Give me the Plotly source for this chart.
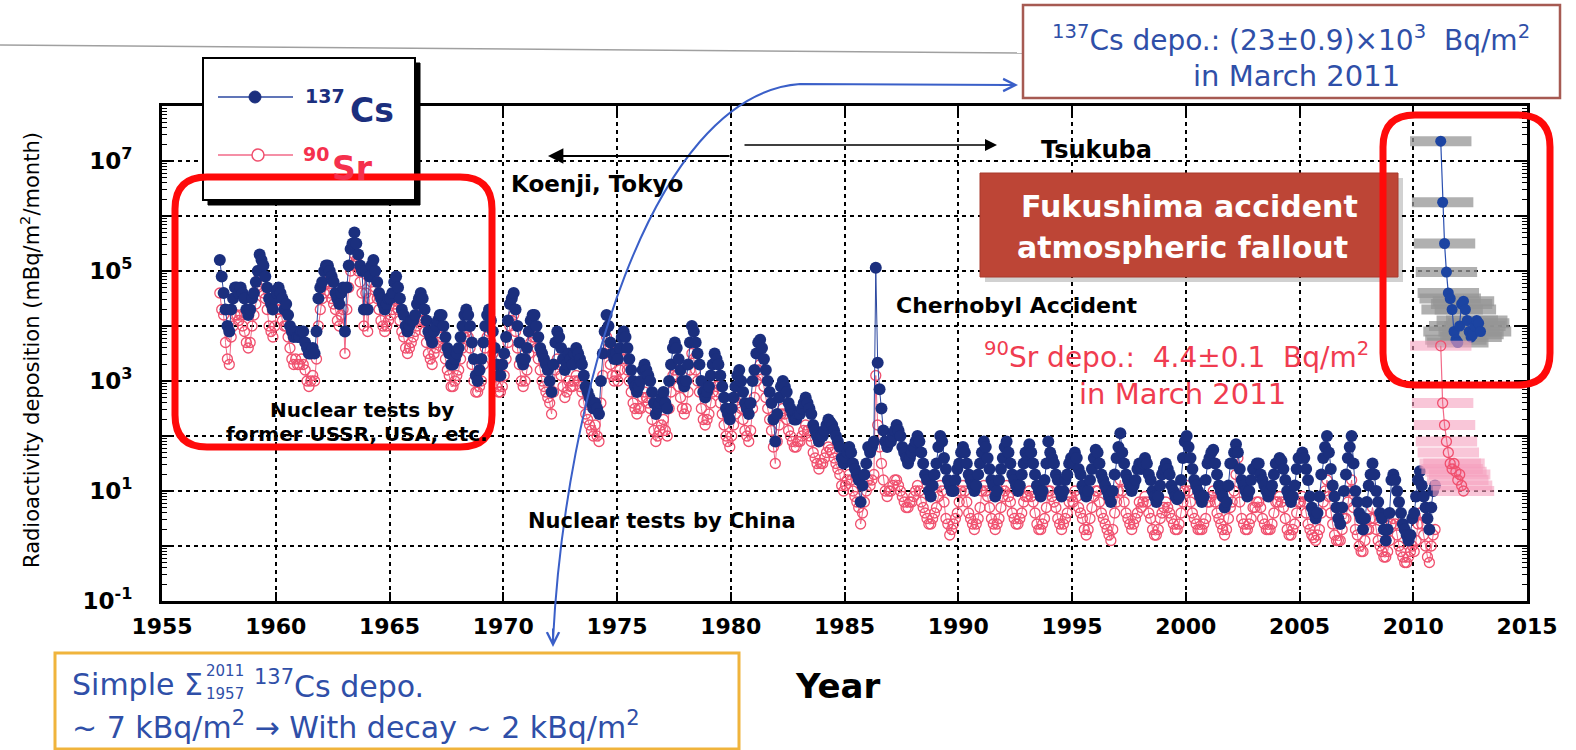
import plotly.graph_objects as go

# ---------------- data: log10 of monthly deposition (mBq/m2/month) ----------------
# Koenji / Tsukuba monthly series, first month = July 1957
series_start = (1957, 7)

cs_log_1957_1969 = [
    5.2, 4.9, 4.6, 4.3, 4.0, 3.9,                                  # 1957 Jul-Dec
    4.3, 4.5, 4.7, 4.7, 4.6, 4.7, 4.6, 4.5, 4.3, 4.2, 4.3, 4.5,    # 1958
    4.6, 4.8, 5.0, 5.3, 5.2, 5.1, 4.9, 4.7, 4.5, 4.4, 4.3, 4.5,    # 1959
    4.6, 4.7, 4.6, 4.5, 4.3, 4.4, 4.2, 4.0, 3.9, 3.8, 3.9, 3.8,    # 1960
    3.8, 3.9, 3.9, 3.7, 3.6, 3.5, 3.5, 3.6, 3.5, 3.9, 4.5, 4.7,    # 1961
    4.8, 5.0, 5.1, 5.1, 5.0, 4.9, 4.8, 4.6, 4.5, 4.4, 4.6, 4.7,    # 1962
    3.9, 4.7, 5.1, 5.4, 5.5, 5.7, 5.5, 5.3, 5.1, 5.0, 4.3, 5.0,    # 1963
    4.3, 4.9, 5.1, 5.2, 5.0, 4.8, 4.6, 4.5, 4.4, 4.3, 4.4, 4.5,    # 1964
    4.5, 4.6, 4.8, 4.9, 4.7, 4.5, 4.3, 4.2, 4.0, 3.9, 4.0, 4.1,    # 1965
    4.1, 4.2, 4.4, 4.5, 4.6, 4.5, 4.3, 4.1, 3.9, 3.8, 3.7, 3.9,    # 1966
    4.0, 4.1, 4.2, 4.2, 4.0, 3.8, 3.6, 3.5, 3.3, 3.3, 3.4, 3.5,    # 1967
    3.6, 3.8, 4.0, 4.2, 4.3, 4.2, 4.0, 3.7, 3.4, 3.1, 3.0, 3.2,    # 1968
    3.4, 3.7, 4.0, 4.2, 4.3, 4.1, 3.9, 3.6, 3.3, 3.1, 3.1, 3.3,    # 1969
]
sr_log_1957_1969 = [
    4.6, 4.3, 4.2, 3.7, 3.4, 3.3,                                  # 1957 Jul-Dec
    3.8, 4.0, 4.2, 4.2, 4.1, 4.2, 4.0, 3.9, 3.7, 3.6, 3.7, 4.0,    # 1958
    4.2, 4.4, 4.7, 4.9, 4.8, 4.6, 4.5, 4.3, 4.0, 3.9, 3.8, 4.0,    # 1959
    4.3, 4.4, 4.3, 4.1, 4.0, 4.0, 3.8, 3.6, 3.4, 3.3, 3.4, 3.3,    # 1960
    3.3, 3.4, 3.3, 3.2, 3.0, 2.9, 3.0, 3.1, 3.0, 3.4, 4.0, 4.3,    # 1961
    4.5, 4.6, 4.8, 4.8, 4.6, 4.5, 4.4, 4.3, 4.1, 4.0, 4.2, 4.3,    # 1962
    3.5, 4.3, 4.7, 5.0, 5.1, 5.3, 5.2, 5.0, 4.8, 4.6, 4.0, 4.6,    # 1963
    3.9, 4.5, 4.8, 4.9, 4.7, 4.5, 4.3, 4.1, 4.0, 3.9, 4.0, 4.1,    # 1964
    4.2, 4.3, 4.4, 4.5, 4.3, 4.1, 3.9, 3.8, 3.6, 3.5, 3.6, 3.7,    # 1965
    3.8, 3.9, 4.0, 4.1, 4.2, 4.1, 3.9, 3.7, 3.5, 3.4, 3.3, 3.5,    # 1966
    3.6, 3.7, 3.8, 3.8, 3.6, 3.4, 3.2, 3.1, 2.9, 2.9, 3.0, 3.1,    # 1967
    3.2, 3.4, 3.6, 3.8, 3.9, 3.8, 3.6, 3.3, 3.0, 2.8, 2.8, 2.9,    # 1968
    3.0, 3.3, 3.6, 3.8, 3.9, 3.7, 3.5, 3.2, 2.9, 2.8, 2.8, 2.9,    # 1969
]

cs_log_1970_1985 = [
    3.5, 3.8, 4.1, 4.4, 4.5, 4.6, 4.3, 4.0, 3.7, 3.4, 3.3, 3.4,    # 1970
    3.6, 3.9, 4.1, 4.2, 4.2, 4.0, 3.8, 3.6, 3.5, 3.4, 3.3, 3.2,    # 1971
    3.0, 2.8, 3.3, 3.7, 3.9, 3.8, 3.6, 3.4, 3.2, 3.3, 3.5, 3.4,    # 1972
    3.3, 3.5, 3.6, 3.5, 3.4, 3.3, 3.1, 2.9, 2.8, 2.7, 2.6, 2.5,    # 1973
    2.6, 2.5, 2.4, 3.0, 3.5, 3.9, 4.2, 4.0, 3.7, 3.5, 3.4, 3.5,    # 1974
    3.4, 3.6, 3.8, 3.9, 3.8, 3.6, 3.4, 3.2, 3.0, 2.9, 2.8, 2.9,    # 1975
    3.0, 3.2, 3.3, 3.2, 3.1, 3.0, 2.8, 2.6, 2.4, 2.5, 2.6, 2.7,    # 1976
    2.8, 2.6, 2.5, 3.0, 3.3, 3.6, 3.7, 3.6, 3.4, 3.2, 3.0, 2.9,    # 1977
    3.0, 3.3, 3.7, 4.0, 3.9, 3.7, 3.5, 3.3, 3.0, 2.8, 2.7, 2.8,    # 1978
    2.9, 3.1, 3.3, 3.5, 3.4, 3.3, 3.1, 2.9, 2.7, 2.5, 2.4, 2.3,    # 1979
    2.5, 2.7, 2.9, 3.1, 3.2, 3.0, 2.8, 2.6, 2.5, 2.4, 2.6, 3.0,    # 1980
    3.2, 3.5, 3.7, 3.75, 3.6, 3.4, 3.2, 3.0, 2.8, 2.6, 2.3, 1.9,   # 1981
    2.4, 2.7, 2.9, 3.0, 2.9, 2.8, 2.6, 2.5, 2.4, 2.3, 2.3, 2.4,    # 1982
    2.4, 2.5, 2.6, 2.7, 2.6, 2.5, 2.4, 2.2, 2.1, 2.0, 1.9, 2.0,    # 1983
    2.0, 2.1, 2.2, 2.3, 2.25, 2.2, 2.1, 2.0, 1.9, 1.8, 1.6, 1.5,   # 1984
    1.6, 1.7, 1.8, 1.7, 1.5, 1.4, 1.3, 1.2, 0.8, 1.1, 1.3, 1.5,    # 1985
]
sr_log_1970_1985 = [
    3.1, 3.4, 3.7, 4.0, 4.1, 4.2, 3.9, 3.6, 3.3, 3.0, 2.9, 3.0,    # 1970
    3.2, 3.5, 3.7, 3.8, 3.8, 3.6, 3.4, 3.2, 3.0, 2.9, 2.8, 2.7,    # 1971
    2.6, 2.4, 2.8, 3.2, 3.4, 3.3, 3.1, 2.9, 2.7, 2.8, 3.0, 2.9,    # 1972
    2.9, 3.0, 3.1, 3.0, 2.9, 2.8, 2.6, 2.4, 2.3, 2.2, 2.1, 2.0,    # 1973
    2.2, 2.0, 1.9, 2.6, 3.1, 3.5, 3.8, 3.6, 3.3, 3.1, 3.0, 3.1,    # 1974
    3.0, 3.2, 3.4, 3.5, 3.4, 3.2, 3.0, 2.8, 2.6, 2.5, 2.4, 2.5,    # 1975
    2.5, 2.7, 2.8, 2.7, 2.6, 2.5, 2.3, 2.1, 1.9, 2.0, 2.1, 2.2,    # 1976
    2.3, 2.1, 2.0, 2.5, 2.8, 3.1, 3.2, 3.1, 2.9, 2.7, 2.5, 2.4,    # 1977
    2.5, 2.8, 3.2, 3.5, 3.4, 3.2, 3.0, 2.8, 2.5, 2.3, 2.2, 2.3,    # 1978
    2.4, 2.6, 2.8, 3.0, 2.9, 2.8, 2.6, 2.4, 2.2, 2.0, 1.9, 1.8,    # 1979
    2.0, 2.2, 2.4, 2.6, 2.7, 2.5, 2.3, 2.1, 2.0, 1.9, 2.1, 2.5,    # 1980
    2.7, 3.0, 3.2, 3.3, 3.1, 2.9, 2.7, 2.5, 2.3, 2.1, 1.8, 1.5,    # 1981
    1.9, 2.2, 2.4, 2.5, 2.4, 2.3, 2.1, 2.0, 1.9, 1.8, 1.8, 1.9,    # 1982
    1.9, 2.0, 2.1, 2.2, 2.1, 2.0, 1.9, 1.7, 1.6, 1.5, 1.4, 1.5,    # 1983
    1.5, 1.6, 1.7, 1.8, 1.75, 1.7, 1.6, 1.5, 1.4, 1.3, 1.1, 1.0,   # 1984
    1.1, 1.2, 1.3, 1.2, 1.0, 0.9, 0.8, 0.7, 0.4, 0.6, 0.8, 1.0,    # 1985
]

cs_log_1986_1999 = [
    1.8, 1.7, 1.8, 1.9, 5.06, 3.33, 2.85, 2.5, 2.1, 1.9, 1.8, 1.9, # 1986 (Chernobyl)
    1.9, 2.0, 2.1, 2.2, 2.1, 2.0, 1.8, 1.7, 1.6, 1.5, 1.6, 1.7,    # 1987
    1.8, 1.9, 2.0, 1.9, 1.7, 1.5, 1.3, 1.2, 1.0, 0.9, 1.1, 1.3,    # 1988
    1.5, 1.8, 2.0, 1.9, 1.6, 1.4, 1.2, 1.1, 1.0, 1.0, 1.2, 1.4,    # 1989
    1.5, 1.7, 1.8, 1.7, 1.5, 1.3, 1.2, 1.1, 1.0, 1.1, 1.3, 1.5,    # 1990
    1.7, 1.9, 1.8, 1.6, 1.4, 1.2, 1.1, 0.9, 1.0, 1.2, 1.4, 1.6,    # 1991
    1.8, 1.9, 1.7, 1.5, 1.3, 1.2, 1.1, 1.0, 1.1, 1.3, 1.5, 1.7,    # 1992
    1.6, 1.85, 1.7, 1.5, 1.3, 1.1, 1.0, 0.9, 1.0, 1.2, 1.5, 1.9,   # 1993
    1.7, 1.6, 1.5, 1.3, 1.2, 1.0, 0.9, 1.0, 1.2, 1.3, 1.5, 1.6,    # 1994
    1.5, 1.7, 1.6, 1.4, 1.3, 1.1, 1.0, 0.9, 1.0, 1.2, 1.4, 1.6,    # 1995
    1.75, 1.7, 1.5, 1.3, 1.2, 1.1, 1.0, 0.9, 0.8, 1.0, 1.3, 1.6,   # 1996
    1.8, 2.05, 1.7, 1.5, 1.3, 1.2, 1.1, 1.0, 1.1, 1.2, 1.4, 1.5,   # 1997
    1.4, 1.5, 1.6, 1.5, 1.3, 1.2, 1.0, 0.9, 0.8, 0.9, 1.1, 1.3,    # 1998
    1.4, 1.5, 1.4, 1.3, 1.1, 1.0, 0.9, 0.85, 0.9, 1.2, 1.6, 1.9,   # 1999
]
sr_log_1986_1999 = [
    1.2, 1.1, 1.2, 1.3, 3.1, 2.2, 1.8, 1.5, 1.2, 1.0, 0.9, 1.0,    # 1986
    1.0, 1.1, 1.2, 1.2, 1.1, 1.0, 0.9, 0.8, 0.7, 0.7, 0.8, 0.8,    # 1987
    0.9, 1.0, 1.1, 1.0, 0.8, 0.7, 0.6, 0.5, 0.4, 0.4, 0.5, 0.6,    # 1988
    0.7, 0.9, 1.1, 1.0, 0.8, 0.5, 0.4, 0.2, 0.3, 0.4, 0.5, 0.6,    # 1989
    0.8, 1.0, 1.1, 1.0, 0.8, 0.6, 0.5, 0.4, 0.3, 0.4, 0.5, 0.7,    # 1990
    1.0, 1.1, 1.0, 0.9, 0.7, 0.5, 0.4, 0.3, 0.4, 0.5, 0.7, 0.9,    # 1991
    1.0, 1.1, 0.9, 0.8, 0.6, 0.5, 0.4, 0.4, 0.5, 0.6, 0.8, 0.9,    # 1992
    0.9, 1.0, 0.9, 0.8, 0.6, 0.4, 0.3, 0.3, 0.4, 0.5, 0.7, 1.0,    # 1993
    1.0, 0.9, 0.8, 0.7, 0.5, 0.4, 0.3, 0.4, 0.5, 0.6, 0.8, 0.9,    # 1994
    0.8, 1.0, 0.9, 0.7, 0.6, 0.5, 0.3, 0.2, 0.3, 0.5, 0.7, 0.9,    # 1995
    1.0, 1.0, 0.8, 0.6, 0.5, 0.4, 0.3, 0.2, 0.1, 0.3, 0.6, 0.8,    # 1996
    1.0, 1.2, 1.0, 0.8, 0.6, 0.5, 0.4, 0.3, 0.4, 0.5, 0.6, 0.8,    # 1997
    0.7, 0.8, 0.9, 0.8, 0.6, 0.5, 0.3, 0.2, 0.2, 0.3, 0.5, 0.6,    # 1998
    0.7, 0.8, 0.7, 0.6, 0.5, 0.4, 0.3, 0.3, 0.4, 0.6, 0.8, 1.0,    # 1999
]

cs_log_2000_2010 = [
    2.0, 1.8, 1.6, 1.4, 1.2, 1.1, 1.0, 0.9, 0.8, 0.9, 1.2, 1.5,    # 2000
    1.6, 1.7, 1.75, 1.5, 1.3, 1.1, 1.0, 0.9, 0.7, 0.8, 1.1, 1.5,   # 2001
    1.5, 1.7, 1.85, 1.7, 1.4, 1.2, 1.1, 1.0, 0.9, 1.0, 1.2, 1.4,   # 2002
    1.4, 1.5, 1.5, 1.3, 1.2, 1.1, 1.0, 0.9, 1.0, 1.1, 1.3, 1.5,    # 2003
    1.5, 1.6, 1.55, 1.4, 1.2, 1.0, 0.9, 0.8, 0.9, 1.1, 1.4, 1.6,   # 2004
    1.6, 1.7, 1.6, 1.4, 1.2, 0.9, 0.7, 0.6, 0.5, 0.6, 0.9, 1.3,    # 2005
    1.6, 1.8, 2.0, 1.7, 1.4, 1.1, 0.9, 0.7, 0.5, 0.4, 0.7, 1.0,    # 2006
    1.3, 1.6, 1.8, 2.0, 1.5, 1.0, 0.8, 0.6, 0.5, 0.3, 0.5, 0.8,    # 2007
    1.1, 1.3, 1.5, 1.3, 1.0, 0.8, 0.6, 0.5, 0.3, 0.1, 0.3, 0.6,    # 2008
    1.2, 1.3, 1.2, 1.0, 0.8, 0.6, 0.4, 0.3, 0.2, 0.1, 0.2, 0.5,    # 2009
    0.6, 0.9, 1.2, 1.36, 1.1, 0.9, 0.7, 0.5, 0.3, 0.7, 1.0, 1.1,   # 2010
]
sr_log_2000_2010 = [
    1.1, 1.0, 0.8, 0.6, 0.5, 0.4, 0.3, 0.3, 0.3, 0.4, 0.5, 0.8,    # 2000
    0.8, 0.9, 1.0, 0.8, 0.6, 0.5, 0.4, 0.3, 0.2, 0.3, 0.5, 0.7,    # 2001
    0.8, 1.0, 1.3, 1.6, 0.8, 0.5, 0.4, 0.3, 0.3, 0.4, 0.5, 0.7,    # 2002
    0.7, 0.8, 0.8, 0.7, 0.5, 0.4, 0.3, 0.3, 0.3, 0.4, 0.6, 0.8,    # 2003
    0.8, 0.9, 0.8, 0.7, 0.5, 0.3, 0.2, 0.2, 0.3, 0.4, 0.6, 0.8,    # 2004
    0.8, 0.9, 0.8, 0.6, 0.4, 0.3, 0.2, 0.15, 0.1, 0.2, 0.3, 0.6,   # 2005
    0.8, 1.0, 1.2, 0.9, 0.6, 0.4, 0.2, 0.1, 0.1, 0.1, 0.3, 0.5,    # 2006
    0.5, 0.8, 1.0, 1.2, 0.7, 0.3, 0.2, 0.0, -0.1, -0.1, 0.1, 0.3,  # 2007
    0.3, 0.5, 0.7, 0.5, 0.3, 0.1, 0.0, -0.1, -0.2, -0.2, -0.1, 0.1, # 2008
    0.4, 0.5, 0.4, 0.2, 0.0, -0.1, -0.2, -0.3, -0.3, -0.2, -0.1, 0.0, # 2009
    -0.1, 0.1, 0.4, 0.6, 0.4, 0.2, 0.0, -0.2, -0.3, 0.0, 0.2, 0.3, # 2010
]

# Fukushima period (Tsukuba), first month = March 2011
fk_start = (2011, 3)
fk_cs_log = [7.36, 6.25, 5.5, 4.98, 4.6, 4.5, 4.3, 3.9, 3.75, 3.7, 4.0, 4.4,
             4.45, 4.3, 4.1, 3.9, 3.8, 3.85, 4.0, 4.1, 4.05, 3.9]
fk_sr_log = [3.64, 2.6, 2.2, 1.9, 1.7, 1.5, 1.4, 1.5, 1.35, 1.2, 1.3, 1.1, 1.0]
fk_xerr_years = 1.35

year_ticks = list(range(1955, 2016, 5))
decade_exps = list(range(-1, 9))
labelled_exps = [-1, 1, 3, 5, 7]

# ---------------- helpers ----------------
W, H = 1576, 750
L, R, T, B = 162, 1527, 106, 601  # plot area in pixels


def px(X):
    return (X - L) / (R - L)


def py(Y):
    return (B - Y) / (B - T)


def month_times(start, n):
    y0, m0 = start
    return [y0 + (m0 - 1 + i + 0.5) / 12.0 for i in range(n)]


cs_log = cs_log_1957_1969 + cs_log_1970_1985 + cs_log_1986_1999 + cs_log_2000_2010
sr_log = sr_log_1957_1969 + sr_log_1970_1985 + sr_log_1986_1999 + sr_log_2000_2010
t_main = month_times(series_start, len(cs_log))
t_sr = month_times(series_start, len(sr_log))
t_fk_cs = month_times(fk_start, len(fk_cs_log))
t_fk_sr = month_times(fk_start, len(fk_sr_log))

CS_MARK = '#1b2f7e'
CS_LINE = '#2b47a0'
SR_COL = '#f0506e'
SR_LINE = '#f26a88'

fig = go.Figure()
fig.add_trace(go.Scatter(
    x=t_sr, y=[10 ** v for v in sr_log], mode='lines+markers',
    line=dict(color=SR_LINE, width=1),
    marker=dict(symbol='circle-open', size=10, color=SR_COL, line=dict(width=1.3)),
    showlegend=False, name='90Sr'))
fig.add_trace(go.Scatter(
    x=t_main, y=[10 ** v for v in cs_log], mode='lines+markers',
    line=dict(color=CS_LINE, width=1),
    marker=dict(symbol='circle', size=12, color=CS_MARK),
    showlegend=False, name='137Cs'))
fig.add_trace(go.Scatter(
    x=t_fk_cs, y=[10 ** v for v in fk_cs_log], mode='lines+markers',
    line=dict(color='#2a4fb0', width=1.2),
    marker=dict(symbol='circle', size=11, color='#1c44a2'),
    error_x=dict(type='constant', value=fk_xerr_years, thickness=10, width=0,
                 color='rgba(150,150,150,0.75)'),
    showlegend=False))
fig.add_trace(go.Scatter(
    x=t_fk_sr, y=[10 ** v for v in fk_sr_log], mode='lines+markers',
    line=dict(color=SR_LINE, width=1.2),
    marker=dict(symbol='circle-open', size=10, color=SR_COL, line=dict(width=1.3)),
    error_x=dict(type='constant', value=fk_xerr_years, thickness=10, width=0,
                 color='rgba(245,160,190,0.6)'),
    showlegend=False))

fig.update_xaxes(
    range=[1955, 2015], tickmode='array', tickvals=year_ticks,
    ticktext=['<b>%d</b>' % y for y in year_ticks],
    tickfont=dict(family='DejaVu Sans', size=22, color='black'),
    showline=True, linewidth=3, linecolor='black', mirror='ticks',
    ticks='inside', ticklen=9, tickwidth=2, tickcolor='black',
    showgrid=True, gridcolor='black', gridwidth=1.5, griddash='4px,4px',
    zeroline=False, ticklabelstandoff=4)
fig.update_yaxes(
    type='log', range=[-1, 8], tickmode='array',
    tickvals=[10 ** k for k in decade_exps],
    ticktext=['<b>10<sup>%d</sup></b>' % k if k in labelled_exps else ' ' for k in decade_exps],
    tickfont=dict(family='DejaVu Sans', size=23, color='black'),
    showline=True, linewidth=3, linecolor='black', mirror='ticks',
    ticks='inside', ticklen=9, tickwidth=2, tickcolor='black',
    minor=dict(ticks='inside', ticklen=5, tickwidth=1, tickcolor='black', dtick='D1', showgrid=False),
    showgrid=True, gridcolor='black', gridwidth=1.5, griddash='4px,4px',
    zeroline=False, ticklabelstandoff=22)

fig.update_layout(
    width=W, height=H, margin=dict(l=L, r=W - R, t=T, b=H - B),
    paper_bgcolor='white', plot_bgcolor='white', showlegend=False)

shapes = []


def rect(x0, y0, x1, y1, fill='white', line='black', lw=2):
    shapes.append(dict(type='rect', xref='paper', yref='paper',
                       x0=px(x0), x1=px(x1), y0=py(y1), y1=py(y0),
                       fillcolor=fill, line=dict(color=line, width=lw), layer='above'))


def seg(x0, y0, x1, y1, color, lw):
    shapes.append(dict(type='line', xref='paper', yref='paper',
                       x0=px(x0), x1=px(x1), y0=py(y0), y1=py(y1),
                       line=dict(color=color, width=lw), layer='above'))


def circ(cx, cy, r, fill, line, lw):
    shapes.append(dict(type='circle', xref='paper', yref='paper',
                       x0=px(cx - r), x1=px(cx + r), y0=py(cy + r), y1=py(cy - r),
                       fillcolor=fill, line=dict(color=line, width=lw), layer='above'))


def P(X, Y):
    return '%.5f,%.5f' % (px(X), py(Y))


def rounded(x0, y0, x1, y1, r, color, lw):
    path = ('M %s L %s Q %s %s L %s Q %s %s L %s Q %s %s L %s Q %s %s Z' % (
        P(x0 + r, y0), P(x1 - r, y0), P(x1, y0), P(x1, y0 + r),
        P(x1, y1 - r), P(x1, y1), P(x1 - r, y1), P(x0 + r, y1),
        P(x0, y1), P(x0, y1 - r), P(x0, y0 + r), P(x0, y0), P(x0 + r, y0)))
    shapes.append(dict(type='path', xref='paper', yref='paper', path=path,
                       line=dict(color=color, width=lw), layer='above'))


# slide separator line
seg(0, 45, 1023, 53, '#a0a0a0', 1.5)

# legend box with shadow
rect(208, 63, 420, 205, fill='black', line='black', lw=1)
rect(203, 58, 415, 200, fill='white', line='black', lw=2)
seg(218, 97, 293, 97, CS_LINE, 1.5)
circ(255, 97, 6, CS_MARK, CS_MARK, 1)
seg(218, 155, 293, 155, SR_LINE, 1.5)
circ(258, 155, 6, 'white', SR_COL, 1.5)

# Fukushima label box
rect(985, 178, 1403, 282, fill='rgba(0,0,0,0.18)', line='rgba(0,0,0,0)', lw=0)
rect(980, 173, 1398, 277, fill='#bd4536', line='#a83a2c', lw=1)

# top-right text box
rect(1023, 5, 1560, 98, fill='white', line='#a65a52', lw=2.5)
# bottom-left text box
rect(55, 653, 739, 749, fill='white', line='#f0b43c', lw=3)

# red highlight boxes
rounded(175, 177, 492, 447, 32, '#ff0a0a', 7)
rounded(1383, 115, 1550, 385, 32, '#ff0a0a', 7)

# blue curved arrow
shapes.append(dict(type='path', xref='paper', yref='paper',
                   path='M %s C %s %s %s L %s' % (P(553, 640), P(565, 400), P(650, 95),
                                                   P(800, 84), P(1012, 85)),
                   line=dict(color='#3a5fc8', width=2), layer='above'))

fig.update_layout(shapes=shapes)


def txt(X, Y, s, size, color='black', bold=False, xanchor='center', angle=0, family='DejaVu Sans'):
    fig.add_annotation(x=px(X), y=py(Y), xref='paper', yref='paper',
                       text=('<b>%s</b>' % s) if bold else s, showarrow=False,
                       font=dict(family=family, size=size, color=color),
                       xanchor=xanchor, yanchor='middle', textangle=angle)


def arrow(hx, hy, tx, ty, color, width, head, size=1.0):
    fig.add_annotation(x=px(hx), y=py(hy), xref='paper', yref='paper',
                       ax=tx - hx, ay=ty - hy, axref='pixel', ayref='pixel',
                       text='', showarrow=True, arrowcolor=color, arrowwidth=width,
                       arrowhead=head, arrowsize=size)


# blue curve arrowheads
arrow(553, 647, 553, 627, '#3a5fc8', 2, 5, 1.2)
arrow(1018, 85, 998, 85, '#3a5fc8', 2, 5, 1.2)

# site arrows
arrow(548, 156, 731, 156, 'black', 2.2, 2, 1.4)
arrow(997, 145, 743, 145, 'black', 1.5, 2, 1.6)

# legend text
txt(325, 96, '137', 19, CS_MARK, bold=True)
txt(372, 111, 'Cs', 33, CS_MARK, bold=True)
txt(316, 154, '90', 19, '#f5304d', bold=True)
txt(352, 168, 'Sr', 33, '#f5304d', bold=True)

# in-plot annotations
txt(597, 184, 'Koenji, Tokyo', 23, bold=True)
txt(1096, 150, 'Tsukuba', 24, bold=True)
txt(1189, 206, 'Fukushima accident', 30, 'white', bold=True)
txt(1182, 248, 'atmospheric fallout', 30, 'white', bold=True)
txt(1017, 305, 'Chernobyl Accident', 22, bold=True)
txt(1176, 355, '<sup>90</sup>Sr depo.:  4.4±0.1  Bq/m<sup>2</sup>', 28, '#f03c50')
txt(1182, 394, 'in March 2011', 29, '#f03c50')
txt(362, 410, 'Nuclear tests by', 20, bold=True)
txt(357, 434, 'former USSR, USA, etc.', 20, bold=True)
txt(662, 521, 'Nuclear tests by China', 21, bold=True)

# top box text
txt(1291, 38, '<sup>137</sup>Cs depo.: (23±0.9)×10<sup>3</sup>  Bq/m<sup>2</sup>', 28, '#2f4fa8')
txt(1296, 76, 'in March 2011', 29, '#2f4fa8')

# bottom box text
txt(70, 684, 'Simple Σ', 30, '#2f4fa8', xanchor='left')
txt(204, 671, '2011', 15, '#2f4fa8', xanchor='left')
txt(204, 694, '1957', 15, '#2f4fa8', xanchor='left')
txt(252, 684, '<sup>137</sup>Cs depo.', 30, '#2f4fa8', xanchor='left')
txt(70, 725, '~ 7 kBq/m<sup>2</sup> → With decay ~ 2 kBq/m<sup>2</sup>', 30, '#2f4fa8', xanchor='left')

# axis titles
txt(838, 686, 'Year', 34, bold=True)
txt(30, 350, 'Radioactivity deposition (mBq/m<sup>2</sup>/month)', 21, angle=-90)

fig.write_html('out.html', config={'displayModeBar': False},
               post_script="document.body.style.margin='0';")
